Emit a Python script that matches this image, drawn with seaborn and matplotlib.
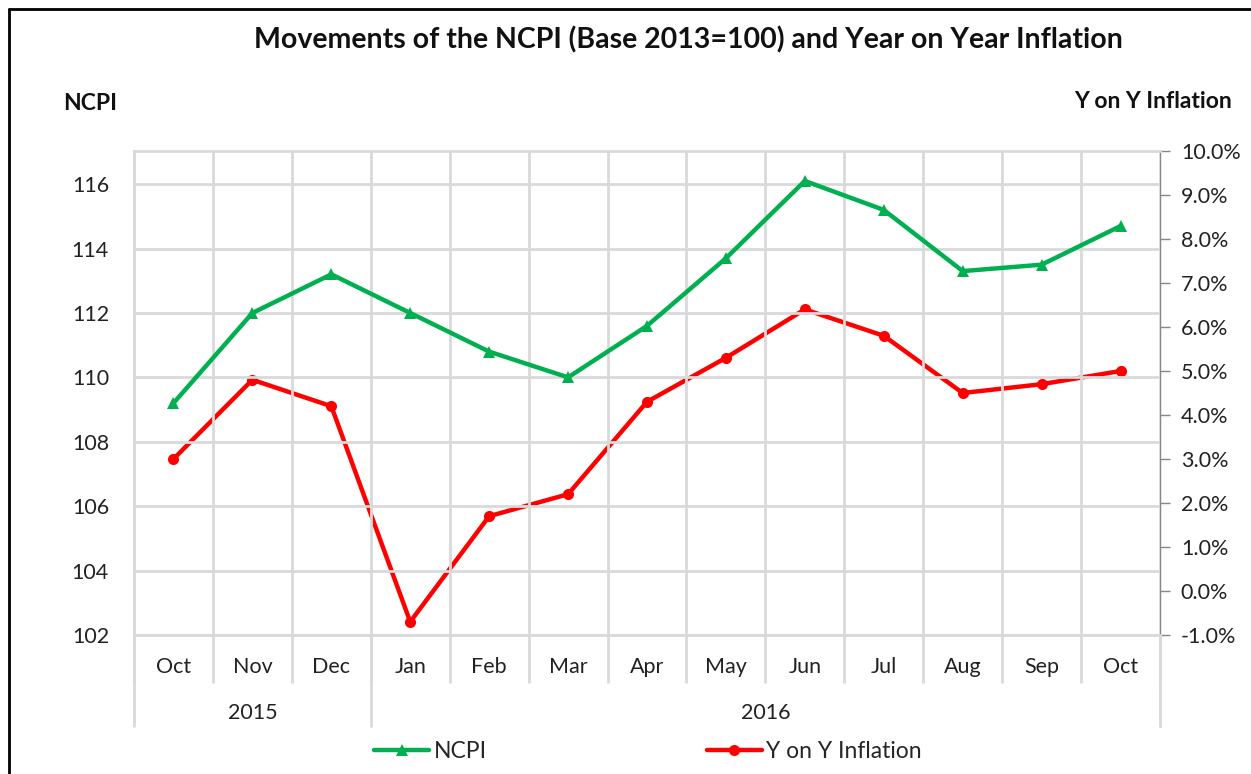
import pandas as pd
import numpy as np
import matplotlib.pyplot as plt
import seaborn as sns
from matplotlib.lines import Line2D
from matplotlib.ticker import PercentFormatter

# data
months = ["Oct", "Nov", "Dec", "Jan", "Feb", "Mar", "Apr", "May", "Jun", "Jul", "Aug", "Sep", "Oct"]
years = ["2015", "2015", "2015", "2016", "2016", "2016", "2016", "2016", "2016", "2016", "2016", "2016", "2016"]
ncpi = [109.2, 112.0, 113.2, 112.0, 110.8, 110.0, 111.6, 113.7, 116.1, 115.2, 113.3, 113.5, 114.7]
yoy_inflation = [3.0, 4.8, 4.2, -0.7, 1.7, 2.2, 4.3, 5.3, 6.4, 5.8, 4.5, 4.7, 5.0]

df = pd.DataFrame({"pos": np.arange(len(months)), "month": months, "year": years,
                   "NCPI": ncpi, "Y on Y Inflation": yoy_inflation})

sns.set_style("white")
plt.rcParams['font.family'] = ['Lato', 'DejaVu Sans']
plt.rcParams['axes.unicode_minus'] = False

GREEN = "#00B050"
RED = "#FF0000"
GRID = "#D9D9D9"
TXT = "#222222"
FS = 15.5

fig = plt.figure(figsize=(12.51, 7.74), dpi=100)
ax = fig.add_axes([134 / 1251, 1 - 635 / 774, (1160 - 134) / 1251, (635 - 151) / 774])
ax2 = ax.twinx()

sns.lineplot(data=df, x="pos", y="NCPI", ax=ax, color=GREEN, linewidth=3.2,
             marker="^", markersize=9, markeredgewidth=0, label="NCPI", legend=False)
sns.lineplot(data=df, x="pos", y="Y on Y Inflation", ax=ax2, color=RED, linewidth=3.2,
             marker="o", markersize=8, markeredgewidth=0, label="Y on Y Inflation", legend=False)

# left axis
ax.set_xlim(-0.5, len(months) - 0.5)
ax.set_ylim(102, 117.03)
ax.set_yticks(np.arange(102, 117, 2))
ax.set_xticks(df["pos"])
ax.set_xticklabels(months)
ax.set_xticks(np.arange(-0.5, len(months), 1), minor=True)
ax.tick_params(axis="x", which="both", length=0, pad=16, labelsize=FS, colors=TXT)
ax.tick_params(axis="y", length=0, pad=18, labelsize=FS, colors=TXT)
ax.set_xlabel("")
ax.set_ylabel("")
ax.grid(axis="y", which="major", color=GRID, linewidth=2)
ax.grid(axis="x", which="minor", color=GRID, linewidth=2)
for s in ["left", "bottom", "top"]:
    ax.spines[s].set_color(GRID)
    ax.spines[s].set_linewidth(2)
ax.spines["right"].set_visible(False)

# right axis
ax2.set_ylim(-1, 10)
ax2.set_yticks(np.arange(-1, 10.5, 1))
ax2.yaxis.set_major_formatter(PercentFormatter(decimals=1))
ax2.tick_params(axis="y", length=7, width=1, pad=8, labelsize=FS, colors="#868686", labelcolor=TXT)
ax2.set_ylabel("")
ax2.grid(False)
for s in ["left", "bottom", "top"]:
    ax2.spines[s].set_visible(False)
ax2.spines["right"].set_color("#868686")
ax2.spines["right"].set_linewidth(1)
ax.set_zorder(ax2.get_zorder() + 1)
ax.patch.set_visible(False)

# category separators below the axis (month level and year level)
trans = ax.get_xaxis_transform()
bounds = np.arange(-0.5, len(months), 1)
ax.vlines(bounds, -0.099, 0, transform=trans, color=GRID, linewidth=2, clip_on=False)
year_names = list(dict.fromkeys(years))
year_edges = [-0.5]
for y in year_names:
    year_edges.append(max(i for i, v in enumerate(years) if v == y) + 0.5)
ax.vlines(year_edges, -0.19, 0, transform=trans, color=GRID, linewidth=2, clip_on=False)
ax2.vlines([len(months) - 0.5], -0.19, 0, transform=ax2.get_xaxis_transform(),
           color="#868686", linewidth=1, clip_on=False)
for i, y in enumerate(year_names):
    ax.text((year_edges[i] + year_edges[i + 1]) / 2, -0.162, y, transform=trans,
            ha="center", va="center", fontsize=FS, color=TXT)

# titles and axis captions
fig.text(688 / 1251, 1 - 40 / 774, "Movements of the NCPI (Base 2013=100) and Year on Year Inflation",
         ha="center", va="center", fontsize=20.5, fontweight="bold", color="#111111")
fig.text(90 / 1251, 1 - 104 / 774, "NCPI", ha="center", va="center", fontsize=16.5,
         fontweight="bold", color="#111111")
fig.text(1232 / 1251, 1 - 101 / 774, "Y on Y Inflation", ha="right", va="center", fontsize=16.5,
         fontweight="bold", color="#111111")

# legend
handles = [Line2D([], [], color=GREEN, linewidth=3.2, marker="^", markersize=9, markeredgewidth=0),
           Line2D([], [], color=RED, linewidth=3.2, marker="o", markersize=8, markeredgewidth=0)]
fig.legend(handles, ["NCPI", "Y on Y Inflation"], loc="center", bbox_to_anchor=(648 / 1251, 1 - 752 / 774),
           ncol=2, frameon=False, fontsize=16.5, columnspacing=9.6, handlelength=2.4, handletextpad=0.2)

# outer chart border
fig.add_artist(Line2D([9 / 1251, 9 / 1251], [0, 1 - 9 / 774], color="black", linewidth=2))
fig.add_artist(Line2D([9 / 1251, 1], [1 - 9 / 774, 1 - 9 / 774], color="black", linewidth=2))

fig.savefig("out.png", dpi=100)
